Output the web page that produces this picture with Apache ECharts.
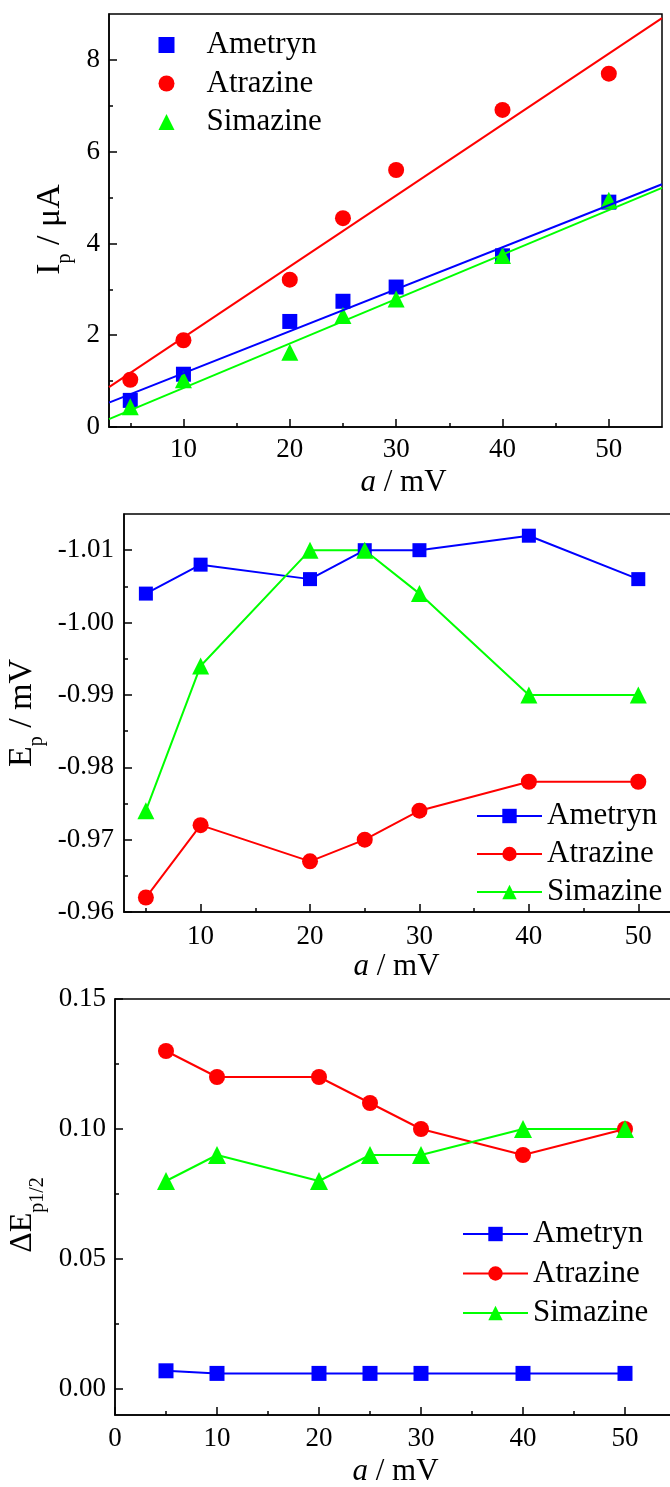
<!DOCTYPE html>
<html>
<head>
<meta charset="utf-8">
<script src="https://cdn.jsdelivr.net/npm/echarts@6/dist/echarts.min.js"></script>
<style>
  html, body { margin: 0; padding: 0; background: #fff; }
  .panel { position: absolute; left: 0; top: 0; width: 670px; height: 1487px; }
</style>
</head>
<body>
<div id="p1" class="panel"></div>
<div id="p2" class="panel"></div>
<div id="p3" class="panel"></div>
<script>
var FONT = '"Liberation Serif", "Times New Roman", serif'
var names = ['Ametryn', 'Atrazine', 'Simazine']
var colors = ['#0000ff', '#ff0000', '#00ff00']
var symbols = ['rect', 'circle', 'triangle']

// top panel: peak current vs amplitude
var ipX = [5, 10, 20, 25, 30, 40, 50]
var ipAmetryn = [0.58, 1.15, 2.30, 2.74, 3.05, 3.73, 4.90]
var ipAtrazine = [1.03, 1.89, 3.21, 4.55, 5.60, 6.91, 7.70]
var ipSimazine = [0.44, 1.03, 1.63, 2.43, 2.79, 3.74, 4.94]
// fitted lines, end points read at x = 3 and x = 55
var fitX = [3, 55]
var fitAmetryn = [0.53, 5.29]
var fitAtrazine = [0.87, 8.91]
var fitSimazine = [0.17, 5.21]

// middle panel: peak potential
var epX = [5, 10, 20, 25, 30, 40, 50]
var epAmetryn = [-1.004, -1.008, -1.006, -1.010, -1.010, -1.012, -1.006]
var epAtrazine = [-0.962, -0.972, -0.967, -0.970, -0.974, -0.978, -0.978]
var epSimazine = [-0.974, -0.994, -1.010, -1.010, -1.004, -0.990, -0.990]

// bottom panel: half peak width
var deX = [5, 10, 20, 25, 30, 40, 50]
var deAmetryn = [0.007, 0.006, 0.006, 0.006, 0.006, 0.006, 0.006]
var deAtrazine = [0.13, 0.12, 0.12, 0.11, 0.10, 0.09, 0.10]
var deSimazine = [0.08, 0.09, 0.08, 0.09, 0.09, 0.10, 0.10]

// ticks
var xMajor = [10, 20, 30, 40, 50]
var xMinor = [5, 15, 25, 35, 45]
var x3Major = [0, 10, 20, 30, 40, 50]
var ipMajor = [0, 2, 4, 6, 8]
var ipMinor = [1, 3, 5, 7]
var epMajor = [-1.01, -1.00, -0.99, -0.98, -0.97, -0.96]
var epMinor = [-1.005, -0.995, -0.985, -0.975, -0.965]
var deMajor = [0, 0.05, 0.10, 0.15]
var deMinor = [0.025, 0.075, 0.125]

function zip(xs, ys) {
  return xs.map(function (x, i) { return [x, ys[i]] })
}

function fixed2(v) { return v.toFixed(2) }

var xRich = {
  i: {fontFamily: FONT, fontSize: 31, fontStyle: 'italic', color: '#000'},
  n: {fontFamily: FONT, fontSize: 31, color: '#000'}
}

function yRich(size) {
  return {
    m: {fontFamily: FONT, fontSize: size, lineHeight: 50, color: '#000'},
    s: {fontFamily: FONT, fontSize: 20, lineHeight: 20, verticalAlign: 'bottom', color: '#000'}
  }
}

// a main axis (line, ticks, labels, name) plus an invisible twin carrying the minor ticks
function axes(o) {
  var main = {
    type: 'value', min: o.min, max: o.max, position: o.position, inverse: !!o.inverse,
    axisLine: {onZero: false, lineStyle: {color: '#000', width: 1.5}},
    axisTick: {inside: true, length: 8, customValues: o.major, lineStyle: {color: '#000', width: 1.5}},
    axisLabel: {customValues: o.major, margin: o.margin, color: '#000', fontFamily: FONT, fontSize: 27, formatter: o.fmt},
    splitLine: {show: false},
    name: o.name, nameLocation: 'middle', nameGap: o.nameGap,
    nameTextStyle: {color: '#000', fontFamily: FONT, padding: o.namePadding || 0, rich: o.rich}
  }
  if (!o.fmt) delete main.axisLabel.formatter
  var minor = {
    type: 'value', min: o.min, max: o.max, position: o.position, inverse: !!o.inverse,
    axisLine: {show: false, onZero: false},
    axisTick: {inside: true, length: 4, customValues: o.minor, lineStyle: {color: '#000', width: 1.5}},
    axisLabel: {show: false},
    splitLine: {show: false}
  }
  return [main, minor]
}

function grid(left, top, width, height) {
  return {left: left, top: top, width: width, height: height, show: true,
    borderColor: '#000', borderWidth: 1.5, outerBoundsMode: 'none', containLabel: false}
}

function legend(left, top, itemWidth, itemHeight, gap, textPad) {
  return {
    data: names, orient: 'vertical', left: left, top: top,
    itemWidth: itemWidth, itemHeight: itemHeight, itemGap: gap, selectedMode: false,
    textStyle: {fontFamily: FONT, fontSize: 31, lineHeight: 32, color: '#000', padding: [0, 0, 0, textPad || 0]}
  }
}

function lineSeries(i, xs, ys, size) {
  return {
    type: 'line', name: names[i], data: zip(xs, ys),
    symbol: symbols[i], symbolSize: size, showAllSymbol: true,
    lineStyle: {color: colors[i], width: 2},
    itemStyle: {color: colors[i], borderWidth: 0},
    xAxisIndex: 0, yAxisIndex: 0
  }
}

// ---- top panel
var chart1 = echarts.init(document.getElementById('p1'))
var fits = [fitAmetryn, fitAtrazine, fitSimazine]
var ipData = [ipAmetryn, ipAtrazine, ipSimazine]
var ipSizes = [15, 16, 17]
var series1 = []
fits.forEach(function (f, i) {
  series1.push({
    type: 'line', name: 'fit ' + names[i], data: zip(fitX, f), symbol: 'none',
    lineStyle: {color: colors[i], width: 2}, xAxisIndex: 0, yAxisIndex: 0
  })
})
ipData.forEach(function (d, i) {
  series1.push({
    type: 'scatter', name: names[i], data: zip(ipX, d), symbol: symbols[i], symbolSize: ipSizes[i],
    itemStyle: {color: colors[i], opacity: 1}, xAxisIndex: 0, yAxisIndex: 0
  })
})
chart1.setOption({
  animation: false,
  grid: grid(109, 14, 553, 413),
  legend: legend(153.5, 24, 16, 16, 6.5, 27),
  xAxis: axes({min: 3, max: 55, position: 'bottom', major: xMajor, minor: xMinor, margin: 9,
    name: '{i|a}{n| / mV}', nameGap: 40, namePadding: [0, 0, 0, 36], rich: xRich}),
  yAxis: axes({min: 0, max: 9, position: 'left', major: ipMajor, minor: ipMinor, margin: 9,
    name: '{m|I}{s|p}{m| / μA}', nameGap: 34, namePadding: [0, 18, 0, 0], rich: yRich(34)}),
  series: series1
})

// ---- middle panel
var chart2 = echarts.init(document.getElementById('p2'))
var epData = [epAmetryn, epAtrazine, epSimazine]
var epSizes = [14, 16, 17]
chart2.setOption({
  animation: false,
  grid: grid(124, 514, 569, 398),
  legend: legend(471, 795, 65, 18, 6),
  xAxis: axes({min: 3, max: 55, position: 'bottom', major: xMajor, minor: xMinor, margin: 11,
    name: '{i|a}{n| / mV}', nameGap: 39, namePadding: [0, 24, 0, 0], rich: xRich}),
  yAxis: axes({min: -1.015, max: -0.96, position: 'left', inverse: true, major: epMajor, minor: epMinor,
    margin: 10, fmt: fixed2, name: '{m|E}{s|p}{m| / mV}', nameGap: 69, rich: yRich(34)}),
  series: epData.map(function (d, i) { return lineSeries(i, epX, d, epSizes[i]) })
})

// ---- bottom panel
var chart3 = echarts.init(document.getElementById('p3'))
var deData = [deAmetryn, deAtrazine, deSimazine]
var deSizes = [15, 16, 18]
chart3.setOption({
  animation: false,
  grid: grid(115, 999, 561, 416),
  legend: legend(457, 1213, 65, 18, 7.5),
  xAxis: axes({min: 0, max: 55, position: 'bottom', major: x3Major, minor: xMinor, margin: 10,
    name: '{i|a}{n| / mV}', nameGap: 41, rich: xRich}),
  yAxis: axes({min: -0.01, max: 0.15, position: 'left', major: deMajor, minor: deMinor,
    margin: 9, fmt: fixed2, name: '{m|ΔE}{s|p1/2}', nameGap: 66, namePadding: [0, 16, 0, 0], rich: yRich(32)}),
  series: deData.map(function (d, i) { return lineSeries(i, deX, d, deSizes[i]) })
})
</script>
</body>
</html>
